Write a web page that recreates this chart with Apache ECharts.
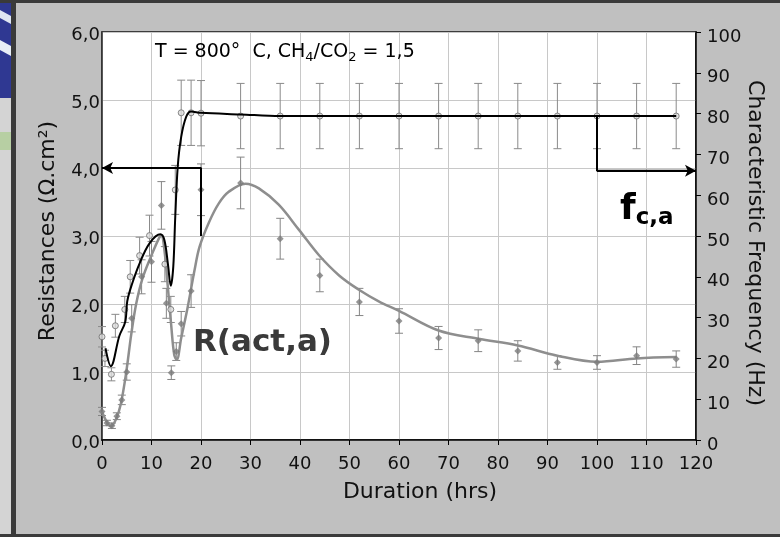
<!DOCTYPE html>
<html>
<head>
<meta charset="utf-8">
<script src="https://cdn.jsdelivr.net/npm/echarts@6.0.0/dist/echarts.min.js"></script>
<style>
html,body{margin:0;padding:0;background:#c0c0c0}
#chart{width:780px;height:537px}
</style>
</head>
<body>
<div id="chart"></div>
<script>
// R(act,a) measured points (Ohm.cm2), left axis
var rTimes  = [0, 1, 2, 3, 4, 5, 6, 8, 10, 12, 13, 14, 15, 16, 18, 20, 28, 36, 44, 52, 60, 68, 76, 84, 92, 100, 108, 116];
var rValues = [0.42, 0.25, 0.21, 0.35, 0.59, 1.0, 1.79, 2.40, 2.62, 3.45, 2.01, 0.99, 1.30, 1.71, 2.19, 3.68, 3.78, 2.96, 2.42, 2.03, 1.75, 1.50, 1.46, 1.31, 1.14, 1.14, 1.24, 1.19];
var rErrors = [0.06, 0.04, 0.04, 0.05, 0.07, 0.12, 0.2, 0.25, 0.3, 0.35, 0.22, 0.1, 0.13, 0.18, 0.24, 0.38, 0.38, 0.3, 0.24, 0.2, 0.18, 0.17, 0.16, 0.15, 0.1, 0.1, 0.13, 0.12];
// R(act,a) fitted curve
var rCurveT = [0, 1, 1.8, 2.8, 3.8, 4.9, 5.9, 6.9, 8.2, 9.9, 11.6, 12.0, 12.6, 13.3, 14, 14.6, 15.1, 16, 17.3, 18.7, 19.7, 21.6, 23.6, 25.6, 29, 31.7, 35.7, 39.8, 43.8, 47.9, 51.9, 55.9, 60, 68, 76, 84, 92, 100, 108, 116];
var rCurveV = [0.42, 0.26, 0.2, 0.3, 0.53, 1.0, 1.55, 2.0, 2.38, 2.7, 2.98, 3.0, 2.8, 2.25, 1.67, 1.25, 1.18, 1.5, 1.95, 2.5, 2.84, 3.2, 3.48, 3.65, 3.77, 3.70, 3.46, 3.09, 2.72, 2.42, 2.21, 2.04, 1.9, 1.61, 1.49, 1.39, 1.24, 1.15, 1.2, 1.22];

// characteristic frequency f(c,a) measured points (Hz), right axis
var fTimes  = [0, 0.6, 1.9, 2.7, 4.6, 5.7, 7.6, 9.6, 12.7, 13.9, 14.8, 16, 18, 20, 28, 36, 44, 52, 60, 68, 76, 84, 92, 100, 108, 116];
var fValues = [25.3, 20.0, 16.1, 28.0, 32.0, 40.0, 45.2, 50.1, 43.1, 32.0, 61.3, 80.2, 80.2, 80.1, 79.4, 79.4, 79.4, 79.4, 79.4, 79.4, 79.4, 79.4, 79.4, 79.4, 79.4, 79.4];
var fErrors = [2.5, 2, 1.6, 2.8, 3.2, 4, 4.5, 5, 4.3, 3.2, 6, 8, 8, 8, 8, 8, 8, 8, 8, 8, 8, 8, 8, 8, 8, 8];
// f(c,a) fitted curve
var fCurveT = [0.7, 1.8, 3.5, 4.7, 5.1, 6, 7.6, 9.6, 11.8, 12.6, 13.3, 13.9, 14.4, 14.8, 15.3, 16, 17, 18, 20, 28, 36, 116];
var fCurveV = [22.5, 18.1, 25.5, 29, 34, 38, 43.3, 48.2, 50.4, 49, 43.3, 37.8, 42.5, 54.7, 67, 74.3, 79.2, 80.5, 80.2, 79.8, 79.4, 79.4];

// arrows pointing to the axes
var arrowLeft  = [[20, 3.0], [20, 4.0], [0, 4.0]];      // Ohm.cm2
var arrowRight = [[100, 79.4], [100, 66.0], [120, 66.0]]; // Hz

var xTicks = [0, 120, 10];
var leftTicks = [0, 6, 1];
var rightTicks = [0, 100, 10];

function zip(a, b) {
    var out = [];
    for (var i = 0; i < a.length; i++) out.push([a[i], b[i]]);
    return out;
}

function errorBars(times, values, errors, yIdx, color) {
    var data = [];
    for (var i = 0; i < times.length; i++) data.push([times[i], values[i], errors[i]]);
    return {
        type: 'custom',
        yAxisIndex: yIdx,
        data: data,
        encode: {x: 0, y: 1},
        silent: true,
        z: 2,
        renderItem: function (params, api) {
            var x = api.value(0), v = api.value(1), e = api.value(2);
            var p1 = api.coord([x, v + e]);
            var p2 = api.coord([x, v - e]);
            var w = 4;
            var st = {stroke: color, lineWidth: 1};
            return {
                type: 'group',
                children: [
                    {type: 'line', shape: {x1: p1[0], y1: p1[1], x2: p2[0], y2: p2[1]}, style: st},
                    {type: 'line', shape: {x1: p1[0] - w, y1: p1[1], x2: p1[0] + w, y2: p1[1]}, style: st},
                    {type: 'line', shape: {x1: p2[0] - w, y1: p2[1], x2: p2[0] + w, y2: p2[1]}, style: st}
                ]
            };
        }
    };
}

function arrowSeries(pts, yIdx) {
    var n = pts.length;
    return {
        type: 'line',
        yAxisIndex: yIdx,
        data: pts,
        symbol: 'none',
        lineStyle: {color: '#000', width: 2},
        z: 6,
        markLine: {
            silent: true,
            symbol: ['none', 'arrow'],
            symbolSize: [9, 11],
            label: {show: false},
            lineStyle: {color: '#000', width: 2, type: 'solid'},
            data: [[{coord: pts[n - 2]}, {coord: pts[n - 1]}]]
        }
    };
}

var font = 'DejaVu Sans';
var myChart = echarts.init(document.getElementById('chart'));

var option = {
    animation: false,
    backgroundColor: '#c0c0c0',
    textStyle: {fontFamily: font},
    grid: {
        left: 102, right: 84, top: 32, bottom: 97,
        show: true, backgroundColor: '#fff', borderColor: '#111', borderWidth: 1.5
    },
    xAxis: {
        type: 'value',
        min: xTicks[0], max: xTicks[1], interval: xTicks[2],
        axisLine: {lineStyle: {color: '#000', width: 1.5}},
        axisTick: {show: true, length: 5, lineStyle: {color: '#000'}},
        axisLabel: {fontSize: 18, color: '#111', margin: 15, fontFamily: font},
        splitLine: {lineStyle: {color: '#c8c8c8', width: 1}}
    },
    yAxis: [
        {
            type: 'value',
            min: leftTicks[0], max: leftTicks[1], interval: leftTicks[2],
            axisLine: {show: true, lineStyle: {color: '#333', width: 1.5}},
            axisTick: {show: false},
            axisLabel: {
                fontSize: 18, color: '#111', margin: 2, fontFamily: font,
                verticalAlign: 'top', lineHeight: 6,
                formatter: function (v) { return v.toFixed(1).replace('.', ','); }
            },
            splitLine: {lineStyle: {color: '#c8c8c8', width: 1}}
        },
        {
            type: 'value',
            position: 'right',
            min: rightTicks[0], max: rightTicks[1], interval: rightTicks[2],
            axisLine: {show: true, lineStyle: {color: '#000', width: 1.5}},
            axisTick: {show: true, length: 5, lineStyle: {color: '#000'}},
            axisLabel: {fontSize: 18, color: '#111', margin: 11, fontFamily: font, verticalAlign: 'top', lineHeight: 10},
            splitLine: {show: false}
        }
    ],
    series: [
        errorBars(rTimes, rValues, rErrors, 0, '#858585'),
        errorBars(fTimes, fValues, fErrors, 1, '#8a8a8a'),
        {
            type: 'line',
            yAxisIndex: 0,
            data: zip(rCurveT, rCurveV),
            smooth: 0.35,
            symbol: 'none',
            lineStyle: {color: '#8e8e8e', width: 2.5},
            z: 3
        },
        {
            type: 'scatter',
            yAxisIndex: 0,
            data: zip(rTimes, rValues),
            symbol: 'diamond',
            symbolSize: 7,
            itemStyle: {color: '#7a7a7a'},
            z: 4
        },
        {
            type: 'scatter',
            yAxisIndex: 1,
            data: zip(fTimes, fValues),
            symbol: 'circle',
            symbolSize: 6,
            itemStyle: {color: '#dcdcdc', borderColor: '#6e6e6e', borderWidth: 1},
            z: 4
        },
        {
            type: 'line',
            yAxisIndex: 1,
            data: zip(fCurveT, fCurveV),
            smooth: 0.35,
            symbol: 'none',
            lineStyle: {color: '#000', width: 2},
            z: 5
        },
        arrowSeries(arrowLeft, 0),
        arrowSeries(arrowRight, 1)
    ],
    graphic: [
        // frame and logo scraps
        {type: 'rect', silent: true, z: -1, shape: {x: 0, y: 0, width: 11, height: 537}, style: {fill: '#d4d4d4'}},
        {type: 'rect', silent: true, z: -1, shape: {x: 0, y: 0, width: 11, height: 98}, style: {fill: '#2f3892'}},
        {type: 'polygon', silent: true, z: -1, shape: {points: [[0, 10], [11, 16], [11, 24], [0, 18]]}, style: {fill: '#dfe6f2'}},
        {type: 'polygon', silent: true, z: -1, shape: {points: [[0, 40], [11, 46], [11, 56], [0, 50]]}, style: {fill: '#e8eef6'}},
        {type: 'rect', silent: true, z: -1, shape: {x: 0, y: 132, width: 11, height: 18}, style: {fill: '#b7cfa3'}},
        {type: 'rect', silent: true, z: -1, shape: {x: 11, y: 0, width: 5, height: 537}, style: {fill: '#3a3a3a'}},
        {type: 'rect', silent: true, z: -1, shape: {x: 0, y: 0, width: 780, height: 3}, style: {fill: '#3a3a3a'}},
        {type: 'rect', silent: true, z: -1, shape: {x: 0, y: 534, width: 780, height: 3}, style: {fill: '#3a3a3a'}},
        // axis names
        {type: 'text', x: 420, y: 492, style: {text: 'Duration (hrs)', font: '22px "DejaVu Sans"', fill: '#111', textAlign: 'center', textVerticalAlign: 'middle'}},
        {type: 'text', x: 48, y: 231, rotation: Math.PI / 2, style: {text: 'Resistances (Ω.cm²)', font: '22px "DejaVu Sans"', fill: '#111', textAlign: 'center', textVerticalAlign: 'middle'}},
        {type: 'text', x: 755, y: 243, rotation: -Math.PI / 2, style: {text: 'Characteristic Frequency (Hz)', font: '22px "DejaVu Sans"', fill: '#111', textAlign: 'center', textVerticalAlign: 'middle'}},
        // annotations
        {
            type: 'text', x: 155, y: 52, z: 10,
            style: {
                text: '{a|T = 800°  C, CH}{s|4}{a|/CO}{s|2}{a| = 1,5}',
                textVerticalAlign: 'middle',
                rich: {
                    a: {fontSize: 19, fontFamily: font, color: '#111', lineHeight: 24},
                    s: {fontSize: 13, fontFamily: font, color: '#111', lineHeight: 13, verticalAlign: 'bottom'}
                }
            }
        },
        {type: 'text', x: 193, y: 343, z: 10, style: {text: 'R(act,a)', font: 'bold 31px "DejaVu Sans"', fill: '#3a3a3a', textVerticalAlign: 'middle'}},
        {
            type: 'text', x: 620, y: 210, z: 10,
            style: {
                text: '{f|f}{s|c,a}',
                textVerticalAlign: 'middle',
                rich: {
                    f: {fontSize: 36, fontWeight: 'bold', fontFamily: font, color: '#3a3a3a', lineHeight: 40},
                    s: {fontSize: 23, fontWeight: 'bold', fontFamily: font, color: '#3a3a3a', lineHeight: 23, verticalAlign: 'bottom'}
                }
            }
        }
    ]
};

myChart.setOption(option);
</script>
</body>
</html>
